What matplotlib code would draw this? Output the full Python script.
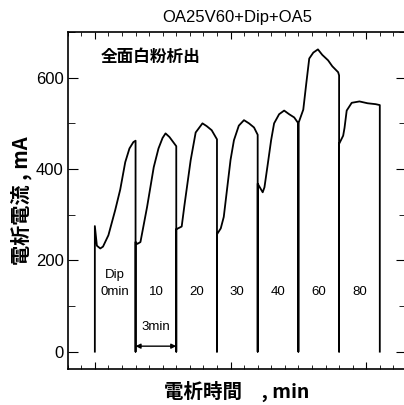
" electrolysis current vs time, dip series "
import matplotlib.pyplot as plt
from matplotlib.ticker import MultipleLocator, FixedLocator

plt.rcParams['font.family'] = ['Liberation Sans', 'Noto Sans CJK JP', 'DejaVu Sans']
CJK = ['Noto Sans CJK JP', 'DejaVu Sans']

# time [min], current [mA]
seg1_t = [2.0, 2.0, 2.15, 2.4, 2.6, 3.0, 3.5, 3.87, 4.24, 4.55, 4.84, 5.0]
seg1_i = [0, 275, 232, 226, 230, 255, 310, 355, 415, 445, 459, 462]
seg2_t = [5.0, 5.0, 5.13, 5.36, 5.85, 6.34, 6.69, 6.99, 7.21, 7.5, 7.8, 8.0]
seg2_i = [0, 240, 236, 240, 317, 404, 445, 468, 478, 470, 458, 450]
seg3_t = [8.0, 8.0, 8.4, 8.6, 9.06, 9.43, 9.93, 10.24, 10.61, 11.0]
seg3_i = [0, 268, 274, 320, 419, 480, 500, 494, 485, 465]
seg4_t = [11.0, 11.0, 11.28, 11.5, 11.8, 12.0, 12.25, 12.61, 12.99, 13.36, 13.73, 14.0]
seg4_i = [0, 257, 270, 295, 370, 420, 463, 495, 507, 500, 491, 475]
seg5_t = [14.0, 14.0, 14.37, 14.5, 14.74, 14.99, 15.21, 15.58, 15.95, 16.32, 16.69, 17.0]
seg5_i = [0, 368, 349, 360, 410, 463, 500, 520, 528, 520, 513, 500]
seg6_t = [17.0, 17.0, 17.36, 17.58, 17.8, 18.1, 18.44, 18.76, 19.19, 19.5, 19.93, 20.0]
seg6_i = [0, 500, 530, 587, 642, 655, 662, 650, 638, 625, 612, 605]
seg7_t = [20.0, 20.0, 20.3, 20.4, 20.56, 20.93, 21.5, 22.1, 22.7, 23.0, 23.0]
seg7_i = [0, 455, 473, 490, 528, 545, 548, 544, 542, 540, 0]

dip_labels = ["0min", "10", "20", "30", "40", "60", "80"]
dip_label_t = [3.5, 6.5, 9.5, 12.5, 15.5, 18.5, 21.5]


def plot_current():
    fig = plt.figure(figsize=(4.04, 4.05), dpi=100)
    ax = fig.add_axes([0.1676, 0.0889, 0.838, 0.832])

    t = seg1_t + seg2_t + seg3_t + seg4_t + seg5_t + seg6_t + seg7_t
    i = seg1_i + seg2_i + seg3_i + seg4_i + seg5_i + seg6_i + seg7_i
    ax.plot(t, i, "k", lw=1.3)

    for lab, x in zip(dip_labels, dip_label_t):
        ax.text(x, 130, lab, ha="center", va="center", fontsize=9.5)
    ax.text(3.5, 167, "Dip", ha="center", va="center", fontsize=9.5)
    ax.text(6.5, 54, "3min", ha="center", va="center", fontsize=9.5)
    ax.annotate("", xy=(5.0, 12), xytext=(8.0, 12),
                arrowprops=dict(arrowstyle="<|-|>", color="k", lw=1,
                                mutation_scale=7, shrinkA=0, shrinkB=0))
    ax.text(2.4, 645, "全面白粉析出", fontsize=12, fontweight="bold",
            family=CJK, va="center")

    ax.set_xlim(0, 24.95)
    ax.set_ylim(-38, 700)
    ax.set_yticks([0, 200, 400, 600])
    ax.yaxis.set_minor_locator(MultipleLocator(100))
    ax.xaxis.set_major_locator(FixedLocator([2, 12, 22]))
    ax.xaxis.set_minor_locator(MultipleLocator(1))
    ax.set_xticklabels([])
    ax.tick_params(axis="y", which="major", direction="in", length=7,
                   right=True, labelsize=12, pad=3)
    ax.tick_params(axis="y", which="minor", direction="in", length=5, right=True)
    ax.tick_params(axis="x", which="major", direction="in", length=5, top=True)
    ax.tick_params(axis="x", which="minor", direction="in", length=3, top=True)
    for sp in ax.spines.values():
        sp.set_linewidth(1.2)

    ax.set_title("OA25V60+Dip+OA5", fontsize=12, pad=7)
    ax.set_ylabel("電析電流 , mA", fontsize=14.5, fontweight="bold", family=CJK,
                  labelpad=3)
    ax.set_xlabel("電析時間　, min", fontsize=14, fontweight="bold", family=CJK,
                  labelpad=5)
    return fig, ax


if __name__ == "__main__":
    fig, ax = plot_current()
    fig.savefig("out.png", dpi=100)
